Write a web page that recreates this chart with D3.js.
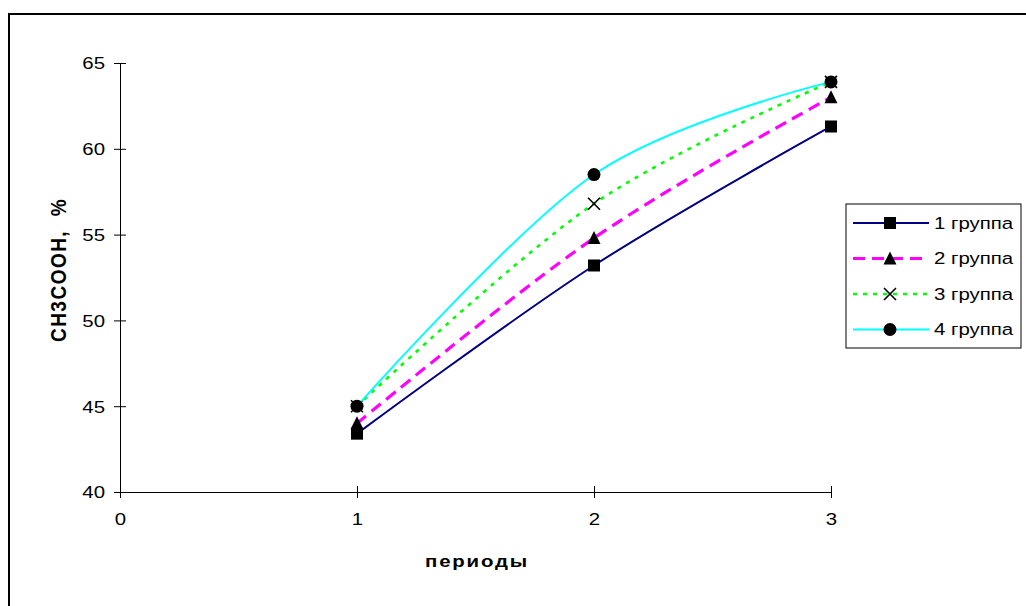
<!DOCTYPE html>
<html>
<head>
<meta charset="utf-8">
<script src="https://cdn.jsdelivr.net/npm/d3@7"></script>
<style>
  html, body { margin: 0; padding: 0; background: #fff; }
  svg { display: block; }
  text { font-family: "Liberation Sans", Arial, sans-serif; fill: #000; }
</style>
</head>
<body>
<svg id="chart" width="1026" height="606"></svg>
<script>
// Acetic acid content by period for four groups
const periods = [1, 2, 3];
const seriesNames = ["1 группа", "2 группа", "3 группа", "4 группа"];
const group1 = [43.4, 53.2, 61.3];
const group2 = [44.0, 54.8, 63.0];
const group3 = [45.0, 56.8, 63.9];
const group4 = [45.0, 58.5, 63.9];
const xTicks = [0, 1, 2, 3];
const yTicks = [40, 45, 50, 55, 60, 65];
const xTitle = "периоды";
const yTitle = "CH3COOH,  %";

const series = [
  { name: seriesNames[0], values: group1, color: "#000080", width: 2, dash: null, marker: "square" },
  { name: seriesNames[1], values: group2, color: "#FF00FF", width: 3.2, dash: "12,7", marker: "triangle" },
  { name: seriesNames[2], values: group3, color: "#00FF00", width: 2.6, dash: "4,6", marker: "cross" },
  { name: seriesNames[3], values: group4, color: "#00FFFF", width: 2, dash: null, marker: "circle" }
];

const SX = 1.2; // horizontal text stretch
const svg = d3.select("#chart");

// outer frame
svg.append("rect")
  .attr("x", 9).attr("y", 14)
  .attr("width", 1040).attr("height", 620)
  .attr("fill", "#fff").attr("stroke", "#000").attr("stroke-width", 2);

const x = d3.scaleLinear().domain([0, 3]).range([120, 831]);
const y = d3.scaleLinear().domain([40, 65]).range([492, 63]);

// axes with ticks crossing the axis line
const yAxis = svg.append("g")
  .attr("transform", `translate(${x(0)},0)`)
  .call(d3.axisLeft(y).tickValues(yTicks).tickFormat(d3.format("d")).tickSize(6).tickSizeOuter(0));
yAxis.select(".domain").attr("stroke", "#000").attr("stroke-width", 1);
yAxis.selectAll(".tick line").attr("x1", -6).attr("x2", 6).attr("stroke", "#000");
yAxis.selectAll(".tick text")
  .attr("transform", `scale(${SX},1)`)
  .attr("x", -15 / SX)
  .attr("dy", "0.35em")
  .style("font-size", "17px")
  .style("font-family", "'Liberation Sans', Arial, sans-serif")
  .attr("fill", "#000");

const xAxis = svg.append("g")
  .attr("transform", `translate(0,${y(40)})`)
  .call(d3.axisBottom(x).tickValues(xTicks).tickFormat(d3.format("d")).tickSize(6).tickSizeOuter(0));
xAxis.select(".domain").attr("stroke", "#000").attr("stroke-width", 1);
xAxis.selectAll(".tick line").attr("y1", -6).attr("y2", 6).attr("stroke", "#000");
xAxis.selectAll(".tick text")
  .attr("transform", `scale(${SX},1)`)
  .attr("y", 21)
  .attr("dy", "0.71em")
  .style("font-size", "17px")
  .style("font-family", "'Liberation Sans', Arial, sans-serif")
  .attr("fill", "#000");

// axis titles
svg.append("text")
  .attr("transform", `translate(58,270) scale(${SX},1) rotate(-90)`)
  .attr("text-anchor", "middle")
  .attr("dy", "0.35em")
  .style("font-size", "19px")
  .style("font-weight", "bold")
  .style("letter-spacing", "1.5px")
  .style("white-space", "pre")
  .text(yTitle);

svg.append("text")
  .attr("transform", `translate(477,567) scale(${SX},1)`)
  .attr("text-anchor", "middle")
  .style("font-size", "17px")
  .style("font-weight", "bold")
  .style("letter-spacing", "1.5px")
  .text(xTitle);

// markers
function drawMarker(g, type, cx, cy) {
  if (type === "square") {
    g.append("rect").attr("x", cx - 6).attr("y", cy - 6)
      .attr("width", 12).attr("height", 12).attr("fill", "#000");
  } else if (type === "triangle") {
    g.append("path")
      .attr("d", `M${cx},${cy - 7}L${cx + 6.5},${cy + 6}L${cx - 6.5},${cy + 6}Z`)
      .attr("fill", "#000");
  } else if (type === "cross") {
    g.append("path")
      .attr("d", `M${cx - 6},${cy - 6}L${cx + 6},${cy + 6}M${cx + 6},${cy - 6}L${cx - 6},${cy + 6}`)
      .attr("stroke", "#000").attr("stroke-width", 1.6).attr("fill", "none");
  } else {
    g.append("circle").attr("cx", cx).attr("cy", cy).attr("r", 6.5).attr("fill", "#000");
  }
}

// smoothed series lines
const line = d3.line()
  .x((d, i) => x(periods[i]))
  .y(d => y(d))
  .curve(d3.curveCatmullRom.alpha(0));

const plot = svg.append("g");
series.forEach(s => {
  const g = plot.append("g");
  g.append("path")
    .datum(s.values)
    .attr("d", line)
    .attr("fill", "none")
    .attr("stroke", s.color)
    .attr("stroke-width", s.width)
    .attr("stroke-dasharray", s.dash);
  s.values.forEach((v, i) => drawMarker(g, s.marker, x(periods[i]), y(v)));
});

// legend
const lg = svg.append("g");
lg.append("rect")
  .attr("x", 846).attr("y", 204).attr("width", 175).attr("height", 144)
  .attr("fill", "#fff").attr("stroke", "#000").attr("stroke-width", 1);
series.forEach((s, i) => {
  const ly = 223 + i * 35.5;
  lg.append("line")
    .attr("x1", 853).attr("x2", 929).attr("y1", ly).attr("y2", ly)
    .attr("stroke", s.color).attr("stroke-width", s.width)
    .attr("stroke-dasharray", s.dash);
  drawMarker(lg, s.marker, 890, ly);
  lg.append("text")
    .attr("transform", `translate(934,${ly}) scale(${SX},1)`)
    .attr("dy", "0.35em")
    .style("font-size", "17px")
    .text(s.name);
});
</script>
</body>
</html>
